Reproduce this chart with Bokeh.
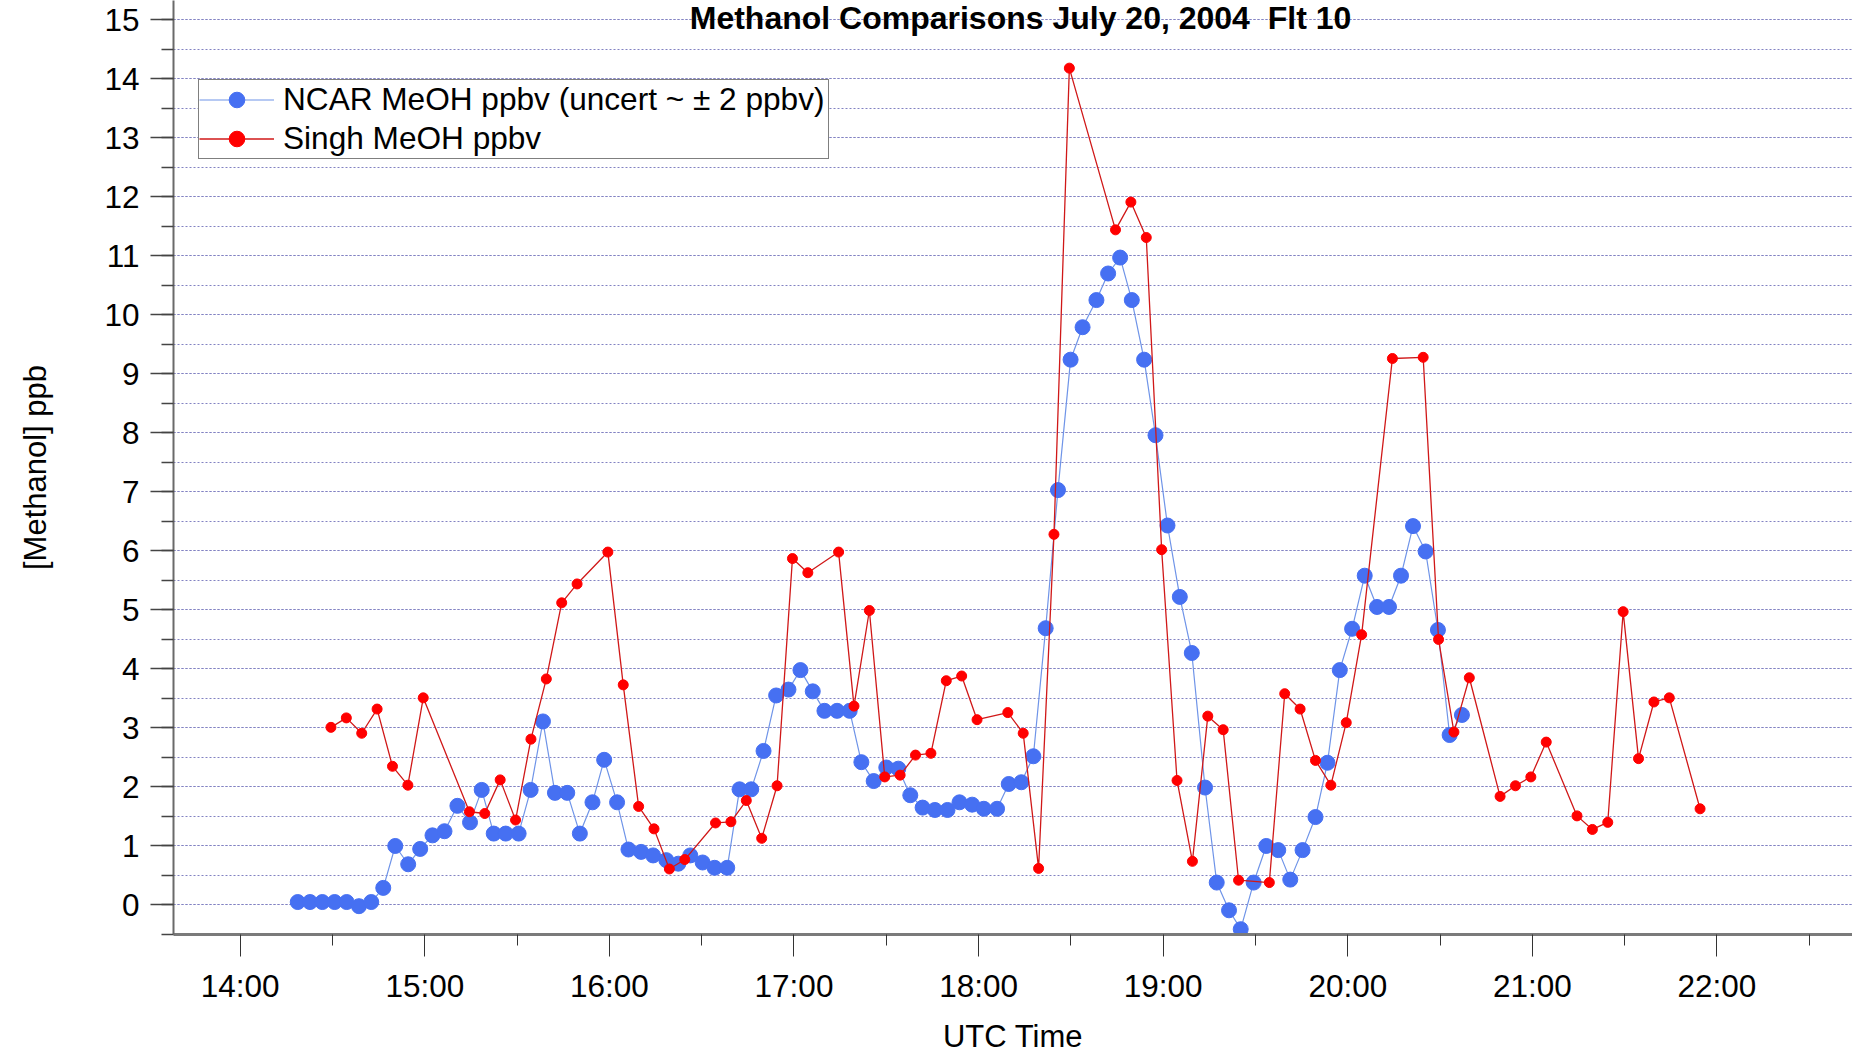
from bokeh.plotting import figure
from bokeh.models import (ColumnDataSource, FixedTicker, SingleIntervalTicker, Legend,
                          LegendItem, Label, Range1d)
from bokeh.embed import file_html
from bokeh.resources import INLINE

# NCAR MeOH samples: minutes after 14:00 UTC and mixing ratio (ppbv)
ncar_minutes = [
    18.7, 22.7, 26.7, 30.7, 34.6, 38.6, 42.6, 46.5, 50.4, 54.6,
    58.5, 62.5, 66.4, 70.6, 74.7, 78.5, 82.4, 86.3, 90.5, 94.4,
    98.4, 102.3, 106.3, 110.4, 114.5, 118.3, 122.5, 126.2, 130.3, 134.2,
    138.5, 142.4, 146.3, 150.3, 154.2, 158.3, 162.3, 166.1, 170.1, 174.2,
    178.2, 182.1, 186.1, 189.9, 194.0, 198.1, 201.9, 205.9, 210.0, 213.9,
    217.8, 221.8, 225.8, 229.9, 233.8, 237.9, 241.7, 246.0, 249.8, 253.9,
    257.8, 261.8, 265.8, 269.9, 273.8, 278.3, 282.1, 286.0, 289.8, 293.8,
    297.5, 301.4, 305.4, 309.3, 313.6, 317.4, 321.4, 325.2, 329.4, 333.5,
    337.4, 341.3, 345.3, 349.5, 353.4, 357.4, 361.4, 365.5, 369.5, 373.4,
    377.3, 381.2, 385.3, 389.3, 393.1, 397.1,
]
ncar_ppbv = [
    0.05, 0.05, 0.05, 0.05, 0.05, -0.02, 0.05, 0.29, 1.00, 0.69,
    0.95, 1.18, 1.25, 1.68, 1.40, 1.95, 1.21, 1.21, 1.21, 1.95,
    3.11, 1.90, 1.90, 1.21, 1.74, 2.46, 1.74, 0.94, 0.90, 0.84,
    0.76, 0.70, 0.84, 0.72, 0.63, 0.63, 1.96, 1.96, 2.61, 3.55,
    3.65, 3.98, 3.62, 3.29, 3.29, 3.29, 2.42, 2.10, 2.33, 2.31,
    1.86, 1.65, 1.61, 1.61, 1.74, 1.70, 1.63, 1.63, 2.05, 2.08,
    2.52, 4.69, 7.03, 9.24, 9.79, 10.25, 10.70, 10.97, 10.25, 9.24,
    7.96, 6.43, 5.22, 4.27, 1.99, 0.38, -0.09, -0.41, 0.38, 1.00,
    0.93, 0.43, 0.93, 1.49, 2.41, 3.98, 4.68, 5.58, 5.05, 5.05,
    5.58, 6.42, 5.99, 4.66, 2.88, 3.22,
]

# Singh MeOH samples: minutes after 14:00 UTC and mixing ratio (ppbv)
singh_minutes = [
    29.5, 34.5, 39.5, 44.5, 49.5, 54.5, 59.5, 74.5, 79.5, 84.5,
    89.5, 94.5, 99.5, 104.5, 109.5, 119.5, 124.5, 129.5, 134.5, 139.5,
    144.5, 154.5, 159.5, 164.5, 169.5, 174.5, 179.5, 184.5, 194.5, 199.5,
    204.5, 209.5, 214.5, 219.5, 224.5, 229.5, 234.5, 239.5, 249.5, 254.5,
    259.5, 264.5, 269.5, 284.5, 289.5, 294.5, 299.5, 304.5, 309.5, 314.5,
    319.5, 324.5, 334.5, 339.5, 344.5, 349.5, 354.5, 359.5, 364.5, 374.5,
    384.5, 389.5, 394.5, 399.5, 409.5, 414.5, 419.5, 424.5, 434.5, 439.5,
    444.5, 449.5, 454.5, 459.5, 464.5, 474.5,
]
singh_ppbv = [
    3.01, 3.17, 2.91, 3.32, 2.35, 2.03, 3.51, 1.58, 1.55, 2.12,
    1.44, 2.81, 3.83, 5.12, 5.44, 5.98, 3.73, 1.67, 1.29, 0.61,
    0.77, 1.39, 1.41, 1.77, 1.13, 2.02, 5.87, 5.63, 5.98, 3.37,
    4.99, 2.17, 2.20, 2.54, 2.57, 3.80, 3.88, 3.14, 3.26, 2.91,
    0.62, 6.28, 14.18, 11.44, 11.91, 11.31, 6.02, 2.11, 0.74, 3.20,
    2.97, 0.42, 0.38, 3.58, 3.32, 2.45, 2.03, 3.09, 4.58, 9.26,
    9.28, 4.50, 2.93, 3.85, 1.84, 2.02, 2.17, 2.76, 1.51, 1.28,
    1.40, 4.97, 2.48, 3.44, 3.51, 1.63,
]

hour_ticks = [14, 15, 16, 17, 18, 19, 20, 21, 22]
hour_labels = ["14:00", "15:00", "16:00", "17:00", "18:00",
               "19:00", "20:00", "21:00", "22:00"]

ncar_label = "NCAR MeOH ppbv (uncert ~ \u00b1 2 ppbv)"
singh_label = "Singh MeOH ppbv"
title_text = "Methanol Comparisons July 20, 2004\u00a0 Flt 10"

FONT = "Liberation Sans"
BLUE = "#4670f2"
BLUE_LINE = "#6f94e8"
RED = "#ff0000"
RED_LINE = "#d01818"
GRID = "#8282c2"

ncar_src = ColumnDataSource(dict(x=[14 + m / 60 for m in ncar_minutes], y=ncar_ppbv))
singh_src = ColumnDataSource(dict(x=[14 + m / 60 for m in singh_minutes], y=singh_ppbv))

# the frame runs to the top edge so the title can sit inside it
p = figure(width=1852, height=1056,
           x_range=Range1d(13.6387, 22.7341), y_range=Range1d(-0.5, 15.326),
           output_backend="svg", toolbar_location=None,
           min_border_left=173, min_border_right=0,
           min_border_top=0, min_border_bottom=121)
p.outline_line_color = None
p.background_fill_color = "white"
p.border_fill_color = "white"

# x axis: hours of the day, half-hour minor ticks
xa = p.xaxis[0]
xa.ticker = FixedTicker(ticks=hour_ticks, minor_ticks=[h + 0.5 for h in hour_ticks])
xa.major_label_overrides = {h: lbl for h, lbl in zip(hour_ticks, hour_labels)}
xa.axis_label = "UTC Time"
xa.axis_line_color = "#7a7a7a"
xa.axis_line_width = 3
xa.major_tick_line_color = "#333333"
xa.minor_tick_line_color = "#333333"
xa.major_tick_in = 0
xa.major_tick_out = 22
xa.minor_tick_in = 0
xa.minor_tick_out = 11
xa.major_label_standoff = 11
xa.axis_label_standoff = 12

# y axis: integer labels, half-unit minor ticks
ya = p.yaxis[0]
ya.ticker = SingleIntervalTicker(interval=1, num_minor_ticks=2)
ya.axis_label = "[Methanol] ppb"
ya.axis_line_color = "#6a6a6a"
ya.axis_line_width = 2
ya.major_tick_line_color = "#444444"
ya.major_tick_line_width = 1.5
ya.minor_tick_line_color = "#444444"
ya.minor_tick_line_width = 1.5
ya.major_tick_in = 0
ya.major_tick_out = 23
ya.minor_tick_in = 0
ya.minor_tick_out = 12
ya.major_label_standoff = 11
ya.axis_label_standoff = 48

for ax in (xa, ya):
    ax.major_label_text_font = FONT
    ax.major_label_text_font_size = "31.5px"
    ax.major_label_text_color = "black"
    ax.axis_label_text_font = FONT
    ax.axis_label_text_font_size = "31px"
    ax.axis_label_text_font_style = "normal"
    ax.axis_label_text_color = "black"

p.xgrid.grid_line_color = None
p.ygrid.grid_line_color = GRID
p.ygrid.grid_line_dash = "2 2"
p.ygrid.grid_line_width = 1
p.ygrid.minor_grid_line_color = GRID
p.ygrid.minor_grid_line_dash = "2 2"
p.ygrid.minor_grid_line_width = 1

# series: NCAR underneath, Singh on top
ncar_line = p.line("x", "y", source=ncar_src, line_color=BLUE_LINE, line_width=1.2)
ncar_pts = p.scatter("x", "y", source=ncar_src, size=15, fill_color=BLUE, line_color=BLUE)
singh_line = p.line("x", "y", source=singh_src, line_color=RED_LINE, line_width=1.3)
singh_pts = p.scatter("x", "y", source=singh_src, size=10, fill_color=RED, line_color=RED)

# legend box: two 39 px rows, bottom-left corner at (25, 775) in frame pixels
legend = Legend(
    items=[LegendItem(label=ncar_label, renderers=[ncar_line, ncar_pts]),
           LegendItem(label=singh_label, renderers=[singh_line, singh_pts])],
    location=(25, 775), margin=0, padding=0, spacing=0,
    glyph_width=75, glyph_height=39, label_height=39,
    label_width=545, label_standoff=9,
    label_text_font=FONT, label_text_font_size="31.6px", label_text_color="black",
    border_line_color="black", border_line_width=1.5,
    background_fill_color="white", background_fill_alpha=1.0,
)
p.add_layout(legend)

p.add_layout(Label(x=847, y=917, x_units="screen", y_units="screen", text=title_text,
                   text_font=FONT, text_font_size="32px", text_font_style="bold",
                   text_align="center", text_baseline="alphabetic", text_color="black"))

open("out.html", "w").write(file_html(p, INLINE))
